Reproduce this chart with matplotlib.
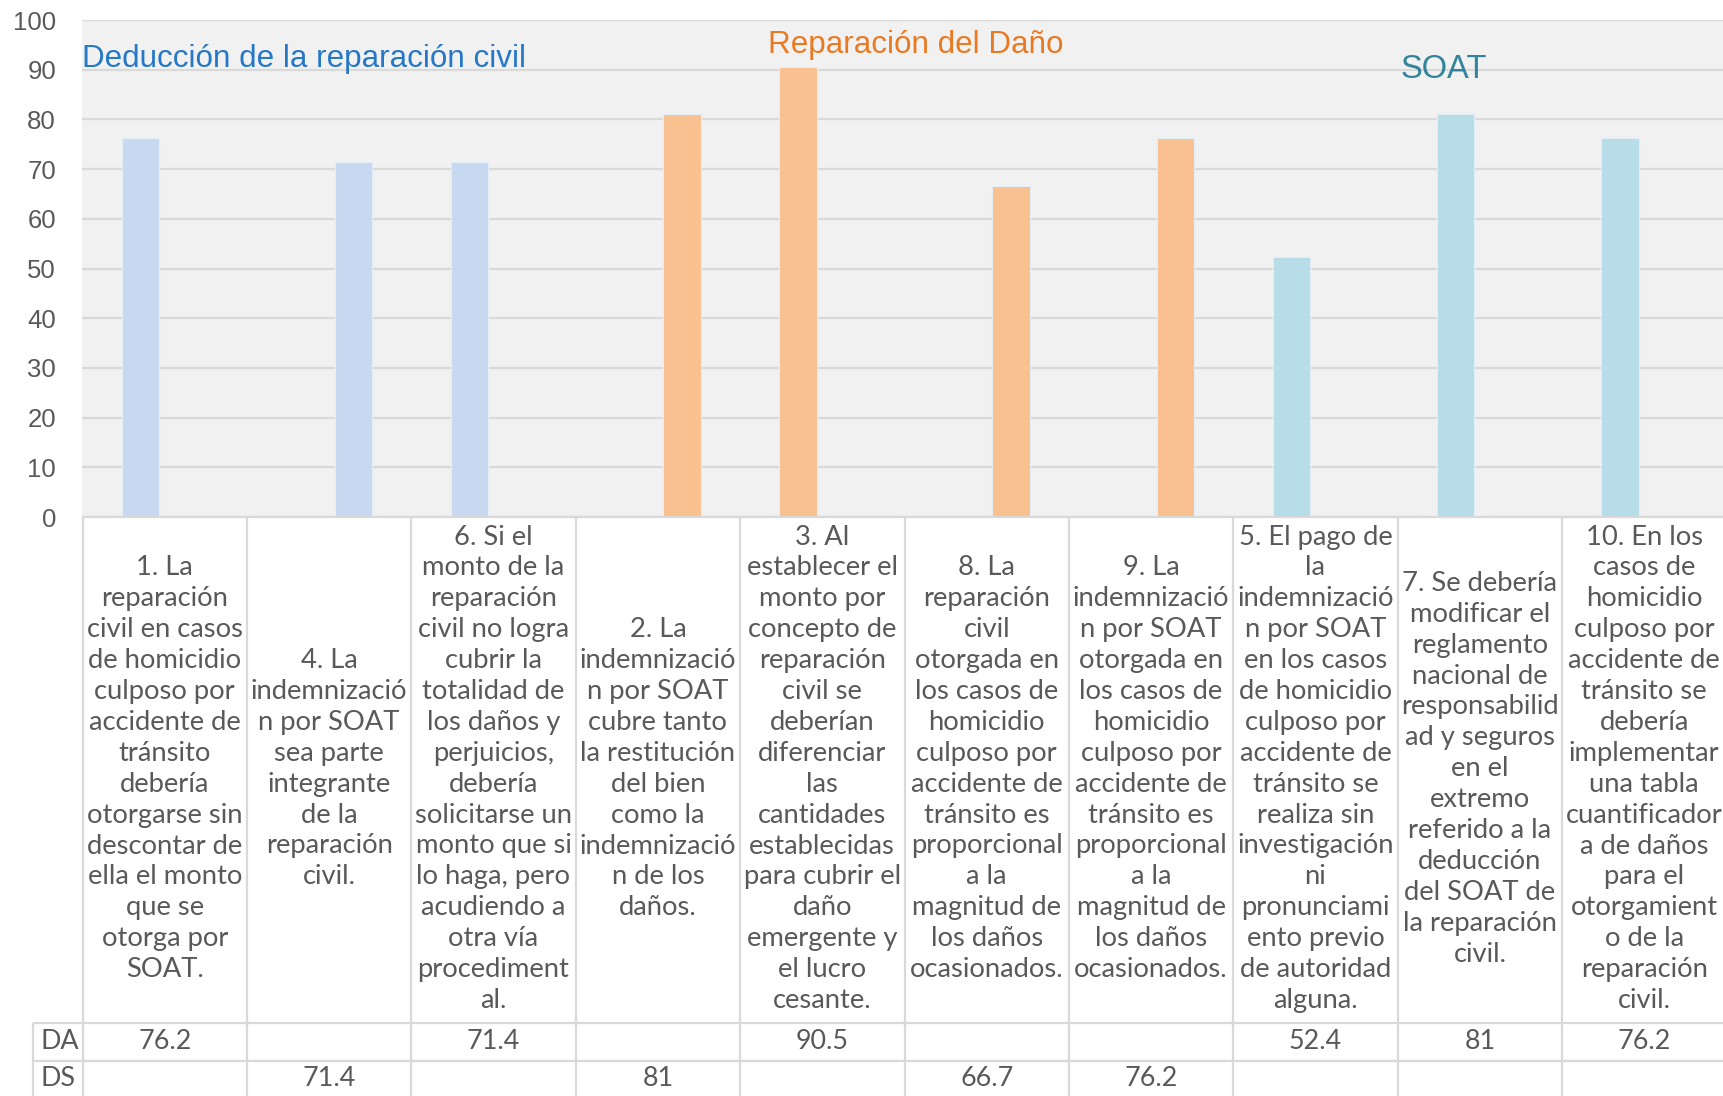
import numpy as np
import matplotlib
matplotlib.use("Agg")
import matplotlib.pyplot as plt

# data
categories = [
    "1. La\nreparación\ncivil en casos\nde homicidio\nculposo por\naccidente de\ntránsito\ndebería\notorgarse sin\ndescontar de\nella el monto\nque se\notorga por\nSOAT.",
    "4. La\nindemnizació\nn por SOAT\nsea parte\nintegrante\nde la\nreparación\ncivil.",
    "6. Si el\nmonto de la\nreparación\ncivil no logra\ncubrir la\ntotalidad de\nlos daños y\nperjuicios,\ndebería\nsolicitarse un\nmonto que si\nlo haga, pero\nacudiendo a\notra vía\nprocediment\nal.",
    "2. La\nindemnizació\nn por SOAT\ncubre tanto\nla restitución\ndel bien\ncomo la\nindemnizació\nn de los\ndaños.",
    "3. Al\nestablecer el\nmonto por\nconcepto de\nreparación\ncivil se\ndeberían\ndiferenciar\nlas\ncantidades\nestablecidas\npara cubrir el\ndaño\nemergente y\nel lucro\ncesante.",
    "8. La\nreparación\ncivil\notorgada en\nlos casos de\nhomicidio\nculposo por\naccidente de\ntránsito es\nproporcional\na la\nmagnitud de\nlos daños\nocasionados.",
    "9. La\nindemnizació\nn por SOAT\notorgada en\nlos casos de\nhomicidio\nculposo por\naccidente de\ntránsito es\nproporcional\na la\nmagnitud de\nlos daños\nocasionados.",
    "5. El pago de\nla\nindemnizació\nn por SOAT\nen los casos\nde homicidio\nculposo por\naccidente de\ntránsito se\nrealiza sin\ninvestigación\nni\npronunciami\nento previo\nde autoridad\nalguna.",
    "7. Se debería\nmodificar el\nreglamento\nnacional de\nresponsabilid\nad y seguros\nen el\nextremo\nreferido a la\ndeducción\ndel SOAT de\nla reparación\ncivil.",
    "10. En los\ncasos de\nhomicidio\nculposo por\naccidente de\ntránsito se\ndebería\nimplementar\nuna tabla\ncuantificador\na de daños\npara el\notorgamient\no de la\nreparación\ncivil.",
]
da = [76.2, None, 71.4, None, 90.5, None, None, 52.4, 81, 76.2]
ds = [None, 71.4, None, 81, None, 66.7, 76.2, None, None, None]
groups = [0, 0, 0, 1, 1, 1, 1, 2, 2, 2]
group_names = ["Deducción de la reparación civil", "Reparación del Daño", "SOAT"]

bar_colors = ["#C6D9F1", "#F9C090", "#B7DDE8"]
title_colors = ["#2677C6", "#E97A22", "#31849B"]
grid_c = "#D9D9D9"
txt_c = "#595959"

W, H = 1724, 1096
fig = plt.figure(figsize=(W / 100, H / 100), dpi=100)

left = 82.5 / W
colw = 164.4
width = 10 * colw / W
y0 = 517
ax = fig.add_axes([left, 1 - y0 / H, width, (y0 - 20) / H])
ax.set_facecolor("#F1F1F1")
ax.set_xlim(-0.5, 9.5)
ax.set_ylim(0, 100)
ax.set_yticks(range(0, 101, 10))
ax.set_xticks([])
ax.grid(axis="y", color=grid_c, lw=1.6)
ax.set_axisbelow(True)
for s in ax.spines.values():
    s.set_visible(False)
ax.tick_params(axis="y", length=0, pad=19, labelsize=18.5, labelcolor=txt_c)
for lb in ax.get_yticklabels():
    lb.set_fontfamily("Liberation Sans")

off, bw = 0.147, 0.228
for i in range(10):
    c = bar_colors[groups[i]]
    if da[i] is not None:
        ax.bar(i - off, da[i], bw, color=c, edgecolor="#E4EEF8", lw=0.8)
    if ds[i] is not None:
        ax.bar(i + off, ds[i], bw, color=c, edgecolor="#E4EEF8", lw=0.8)

# group captions
ax.text(-0.503, 90.6, group_names[0], color=title_colors[0], fontsize=22.6,
        family="Liberation Sans", va="baseline", ha="left")
ax.text(3.67, 93.4, group_names[1], color=title_colors[1], fontsize=22.6,
        family="Liberation Sans", va="baseline", ha="left")
ax.text(7.52, 88.3, group_names[2], color=title_colors[2], fontsize=23.5,
        family="Liberation Sans", va="baseline", ha="left")

# data table below
th = H - y0
tab = fig.add_axes([left, 0, width, th / H])
tab.set_xlim(-0.5, 9.5)
tab.set_ylim(th, 0)
tab.axis("off")
hdr = 505.5
row2 = 544
lab_x = (33 - 82.5) / colw - 0.5
tab.vlines(np.arange(11) - 0.5, 0, th, color=grid_c, lw=1.6, clip_on=False)
tab.vlines(lab_x, hdr, th, color=grid_c, lw=1.6, clip_on=False)
tab.hlines([0], -0.5, 9.6, color=grid_c, lw=1.6, clip_on=False)
tab.hlines([hdr, row2], lab_x, 9.6, color=grid_c, lw=1.6, clip_on=False)

fs = 19.4
for i, lab in enumerate(categories):
    tab.text(i, hdr / 2 - 1, lab, ha="center", va="center", fontsize=19.7,
             family="Lato", color=txt_c, linespacing=1.295)
    if da[i] is not None:
        tab.text(i, (hdr + row2) / 2, f"{da[i]:g}", ha="center", va="center",
                 fontsize=fs, family="Lato", color=txt_c)
    if ds[i] is not None:
        tab.text(i, row2 + 18, f"{ds[i]:g}", ha="center", va="center",
                 fontsize=fs, family="Lato", color=txt_c)

tab.text(lab_x + 0.045, (hdr + row2) / 2, "DA", ha="left", va="center",
         fontsize=fs, family="Lato", color=txt_c, clip_on=False)
tab.text(lab_x + 0.045, row2 + 18, "DS", ha="left", va="center",
         fontsize=fs, family="Lato", color=txt_c, clip_on=False)

fig.savefig("out.png", dpi=100)
